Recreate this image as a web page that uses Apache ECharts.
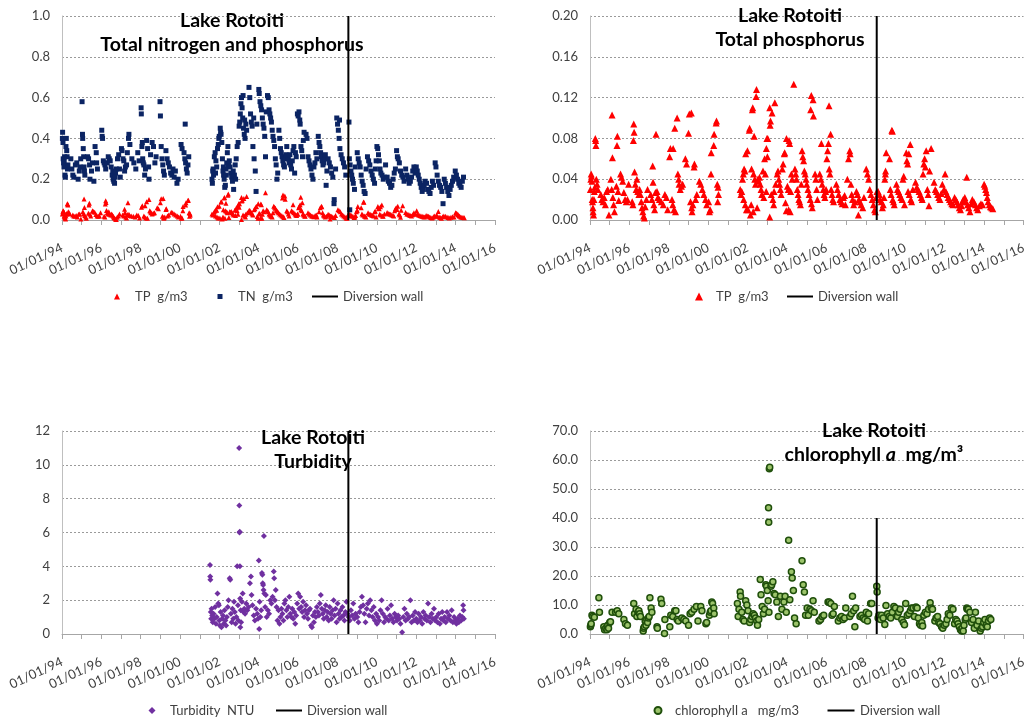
<!DOCTYPE html>
<html>
<head>
<meta charset="utf-8">
<script src="https://cdn.jsdelivr.net/npm/echarts@6/dist/echarts.min.js"></script>
<style>
  html, body { margin: 0; padding: 0; background: #fff; }
  #chart { width: 1029px; height: 720px; }
</style>
</head>
<body>
<div id="chart"></div>
<script>
// dates are decimal years
var tnData = [
  [1994.02,0.40],[1994.03,0.43],[1994.05,0.38],[1994.06,0.30],[1994.08,0.28],[1994.10,0.26],[1994.11,0.29],[1994.13,0.31],[1994.15,0.22],[1994.17,0.21],[1994.20,0.36],[1994.22,0.40],[1994.24,0.34],[1994.26,0.31],[1994.28,0.25],[1994.30,0.27],
  [1994.45,0.30],[1994.50,0.25],[1994.55,0.22],[1994.60,0.21],[1994.68,0.27],[1994.75,0.28],[1994.82,0.20],[1994.88,0.24],[1994.95,0.30],[1994.92,0.26],
  [1995.02,0.58],[1995.04,0.42],[1995.05,0.40],[1995.08,0.35],[1995.10,0.31],[1995.12,0.26],[1995.14,0.24],[1995.16,0.22],
  [1995.30,0.31],[1995.35,0.30],[1995.40,0.27],[1995.42,0.20],[1995.50,0.24],[1995.55,0.28],[1995.62,0.19],[1995.68,0.36],[1995.74,0.33],[1995.80,0.25],[1995.76,0.28],
  [1996.02,0.44],[1996.04,0.41],[1996.06,0.40],[1996.10,0.29],[1996.14,0.28],[1996.18,0.27],[1996.22,0.25],
  [1996.30,0.28],[1996.35,0.31],[1996.40,0.30],[1996.45,0.29],[1996.50,0.26],[1996.55,0.22],[1996.60,0.20],[1996.63,0.19],[1996.67,0.18],[1996.72,0.23],[1996.76,0.25],[1996.82,0.30],[1996.88,0.32],[1996.92,0.25],[1996.96,0.21],[1996.58,0.24],[1996.70,0.21],
  [1997.02,0.35],[1997.05,0.34],[1997.10,0.30],[1997.14,0.29],[1997.18,0.24],[1997.22,0.26],[1997.28,0.27],[1997.32,0.33],[1997.38,0.40],[1997.40,0.42],[1997.45,0.37],
  [1997.55,0.30],[1997.65,0.28],[1997.75,0.25],[1997.85,0.33],[1997.92,0.29],
  [1998.02,0.55],[1998.03,0.52],[1998.06,0.36],[1998.08,0.38],[1998.10,0.30],[1998.13,0.28],[1998.16,0.27],[1998.20,0.22],[1998.24,0.25],
  [1998.30,0.39],[1998.35,0.35],[1998.40,0.26],[1998.42,0.20],[1998.50,0.32],[1998.58,0.38],[1998.65,0.36],[1998.72,0.28],[1998.78,0.31],
  [1998.98,0.58],[1999.00,0.51],[1999.04,0.36],[1999.08,0.30],[1999.12,0.27],[1999.16,0.24],[1999.20,0.22],
  [1999.28,0.34],[1999.34,0.30],[1999.40,0.28],[1999.46,0.26],[1999.52,0.23],[1999.58,0.22],[1999.64,0.25],[1999.70,0.21],[1999.76,0.24],[1999.84,0.18],[1999.90,0.20],
  [2000.05,0.37],[2000.10,0.35],[2000.26,0.47],[2000.20,0.33],[2000.24,0.30],[2000.28,0.28],[2000.32,0.25],[2000.36,0.23],[2000.40,0.27],[2000.44,0.31],
  [2001.62,0.20],[2001.64,0.18],[2001.66,0.24],[2001.70,0.22],[2001.74,0.31],[2001.78,0.33],[2001.82,0.29],[2001.86,0.26],[2001.90,0.35],[2001.94,0.37],[2001.97,0.40],[2001.99,0.41],[2001.68,0.25],[2001.80,0.23],
  [2002.04,0.45],[2002.06,0.43],[2002.08,0.42],[2002.12,0.38],[2002.15,0.30],[2002.18,0.24],[2002.21,0.22],[2002.24,0.20],[2002.27,0.16],[2002.30,0.17],[2002.33,0.25],[2002.37,0.28],[2002.40,0.33],[2002.43,0.36],[2002.46,0.27],[2002.20,0.26],[2002.35,0.22],
  [2002.50,0.29],[2002.54,0.26],[2002.58,0.23],[2002.62,0.21],[2002.66,0.19],[2002.72,0.15],[2002.76,0.22],[2002.80,0.27],[2002.85,0.30],[2002.90,0.36],[2002.95,0.38],[2002.70,0.24],[2002.82,0.20],
  [2003.00,0.46],[2003.03,0.48],[2003.06,0.52],[2003.09,0.57],[2003.12,0.60],[2003.15,0.55],[2003.18,0.50],[2003.22,0.45],[2003.26,0.42],[2003.30,0.40],[2003.34,0.47],[2003.38,0.44],[2003.20,0.61],[2003.28,0.49],
  [2003.50,0.65],[2003.54,0.60],[2003.58,0.52],[2003.62,0.48],[2003.66,0.46],[2003.70,0.36],[2003.76,0.30],[2003.82,0.24],[2003.86,0.14],[2003.74,0.50],[2003.90,0.47],
  [2004.00,0.64],[2004.02,0.62],[2004.06,0.58],[2004.10,0.56],[2004.14,0.54],[2004.18,0.50],[2004.22,0.47],[2004.26,0.45],[2004.30,0.41],[2004.34,0.31],[2004.38,0.53],
  [2004.44,0.61],[2004.48,0.60],[2004.52,0.54],[2004.56,0.52],[2004.60,0.50],[2004.64,0.48],[2004.68,0.44],[2004.72,0.41],[2004.76,0.39],[2004.80,0.36],[2004.84,0.30],[2004.88,0.27],[2004.92,0.20],[2004.96,0.23],
  [2005.02,0.44],[2005.06,0.40],[2005.10,0.35],[2005.14,0.33],[2005.18,0.31],[2005.22,0.29],[2005.26,0.27],[2005.30,0.26],[2005.34,0.30],[2005.38,0.32],[2005.42,0.36],
  [2005.50,0.30],[2005.54,0.28],[2005.58,0.32],[2005.62,0.27],[2005.66,0.25],[2005.70,0.29],[2005.74,0.34],[2005.78,0.36],[2005.82,0.23],[2005.86,0.33],[2005.90,0.31],
  [2005.96,0.52],[2006.00,0.51],[2006.04,0.53],[2006.08,0.49],[2006.10,0.47],[2006.14,0.36],[2006.18,0.34],[2006.22,0.31],[2006.26,0.39],[2006.30,0.43],
  [2006.40,0.42],[2006.45,0.40],[2006.50,0.31],[2006.55,0.29],[2006.60,0.27],[2006.65,0.25],[2006.70,0.22],[2006.75,0.20],[2006.80,0.26],[2006.85,0.28],[2006.90,0.33],[2006.95,0.30],
  [2007.02,0.41],[2007.06,0.38],[2007.10,0.36],[2007.14,0.33],[2007.18,0.31],[2007.22,0.29],[2007.26,0.27],[2007.30,0.28],[2007.34,0.30],[2007.38,0.32],[2007.42,0.17],[2007.46,0.24],
  [2007.52,0.30],[2007.58,0.28],[2007.64,0.26],[2007.70,0.23],[2007.76,0.21],[2007.82,0.08],[2007.83,0.10],[2007.90,0.25],
  [2007.96,0.50],[2008.00,0.47],[2008.04,0.44],[2008.08,0.40],[2008.12,0.35],[2008.18,0.32],[2008.24,0.30],[2008.30,0.28],[2008.36,0.26],[2008.42,0.22],[2008.10,0.49],
  [2008.58,0.48],[2008.60,0.30],[2008.64,0.27],[2008.68,0.24],[2008.72,0.22],[2008.76,0.20],[2008.80,0.18],[2008.86,0.15],[2008.62,0.05],[2008.90,0.26],
  [2009.00,0.33],[2009.05,0.30],[2009.10,0.28],[2009.15,0.26],[2009.20,0.22],[2009.25,0.19],[2009.30,0.17],[2009.35,0.14],[2009.40,0.13],[2009.45,0.25],
  [2009.52,0.31],[2009.58,0.29],[2009.64,0.27],[2009.70,0.24],[2009.76,0.22],[2009.82,0.20],[2009.88,0.18],[2009.92,0.25],[2009.96,0.29],
  [2010.00,0.36],[2010.04,0.35],[2010.08,0.32],[2010.12,0.29],[2010.16,0.25],[2010.20,0.23],[2010.26,0.22],[2010.32,0.20],[2010.38,0.21],[2010.44,0.27],
  [2010.52,0.21],[2010.58,0.19],[2010.64,0.18],[2010.70,0.16],[2010.76,0.17],[2010.82,0.20],[2010.88,0.23],[2010.94,0.25],
  [2011.00,0.34],[2011.04,0.31],[2011.08,0.30],[2011.14,0.28],[2011.20,0.24],[2011.26,0.22],[2011.32,0.21],[2011.38,0.19],
  [2011.46,0.25],[2011.52,0.22],[2011.58,0.20],[2011.64,0.18],[2011.70,0.19],[2011.76,0.21],[2011.82,0.24],[2011.88,0.26],[2011.94,0.23],
  [2012.00,0.26],[2012.05,0.24],[2012.10,0.22],[2012.15,0.20],[2012.20,0.18],[2012.25,0.16],[2012.30,0.14],[2012.35,0.15],[2012.40,0.17],[2012.45,0.19],
  [2012.52,0.18],[2012.58,0.15],[2012.64,0.14],[2012.70,0.13],[2012.76,0.16],[2012.82,0.19],[2012.88,0.17],
  [2012.96,0.28],[2013.00,0.26],[2013.06,0.22],[2013.12,0.19],[2013.18,0.17],[2013.24,0.16],[2013.30,0.14],[2013.36,0.08],
  [2013.42,0.20],[2013.48,0.18],[2013.54,0.16],[2013.60,0.14],[2013.66,0.12],[2013.72,0.15],[2013.78,0.17],[2013.84,0.19],[2013.90,0.21],
  [2013.98,0.24],[2014.04,0.22],[2014.10,0.20],[2014.16,0.18],[2014.22,0.17],[2014.28,0.16],[2014.34,0.19],[2014.40,0.21]
];

var tpData = [
  [1994.02,0.030],[1994.04,0.040],[1994.06,0.045],[1994.08,0.043],[1994.10,0.038],[1994.11,0.020],[1994.13,0.018],[1994.15,0.012],[1994.16,0.008],[1994.18,0.005],[1994.20,0.020],[1994.22,0.028],[1994.24,0.032],[1994.27,0.080],[1994.29,0.078],[1994.30,0.073],[1994.32,0.040],[1994.36,0.035],[1994.40,0.030],
  [1994.55,0.025],[1994.60,0.020],[1994.66,0.018],[1994.72,0.022],[1994.78,0.015],[1994.84,0.028],[1994.90,0.030],[1994.96,0.005],
  [1995.12,0.103],[1995.14,0.061],[1995.06,0.040],[1995.10,0.030],[1995.16,0.022],[1995.20,0.015],[1995.24,0.008],[1995.39,0.082],[1995.37,0.073],[1995.34,0.033],[1995.42,0.028],[1995.46,0.019],
  [1995.55,0.045],[1995.60,0.042],[1995.66,0.038],[1995.72,0.027],[1995.78,0.020],[1995.84,0.018],[1995.90,0.020],[1995.96,0.035],
  [1996.22,0.094],[1996.24,0.086],[1996.20,0.078],[1996.26,0.047],[1996.14,0.018],[1996.18,0.015],[1996.30,0.035],[1996.34,0.030],[1996.38,0.040],[1996.42,0.028],[1996.48,0.025],
  [1996.52,0.030],[1996.56,0.025],[1996.60,0.018],[1996.64,0.012],[1996.68,0.008],[1996.72,0.004],[1996.76,0.002],[1996.80,0.013],[1996.86,0.020],[1996.92,0.030],[1997.18,0.053],[1997.20,0.037],
  [1997.35,0.084],[1997.08,0.025],[1997.14,0.020],[1997.24,0.015],[1997.28,0.010],[1997.32,0.027],[1997.40,0.028],[1997.44,0.022],
  [1997.52,0.020],[1997.62,0.018],[1997.72,0.015],[1997.80,0.025],[1997.88,0.022],[1997.94,0.010],
  [1998.08,0.070],[1998.04,0.062],[1998.30,0.090],[1998.42,0.100],[1998.22,0.070],[1998.16,0.020],[1998.20,0.015],[1998.26,0.010],[1998.34,0.008],[1998.46,0.045],[1998.50,0.040],[1998.52,0.035],
  [1998.58,0.030],[1998.64,0.033],[1998.70,0.035],[1998.84,0.060],[1998.90,0.055],
  [1999.04,0.104],[1999.14,0.105],[1999.00,0.085],[1999.10,0.018],[1999.16,0.012],[1999.18,0.008],[1999.22,0.015],[1999.28,0.052],[1999.30,0.055],[1999.36,0.020],[1999.42,0.025],
  [1999.55,0.038],[1999.62,0.035],[1999.70,0.030],[1999.78,0.025],[1999.86,0.020],[1999.92,0.015],
  [2000.02,0.018],[2000.06,0.008],[2000.10,0.010],[2000.14,0.045],[2000.15,0.066],[2000.28,0.073],[2000.30,0.084],[2000.40,0.095],[2000.42,0.097],[2000.46,0.035],[2000.50,0.032],[2000.52,0.025],[2000.48,0.018],
  [2001.62,0.030],[2001.66,0.025],[2001.70,0.028],[2001.74,0.040],[2001.78,0.045],[2001.82,0.050],[2001.86,0.048],[2001.90,0.065],[2001.99,0.068],[2002.08,0.088],[2002.10,0.090],[2001.80,0.020],[2001.88,0.015],[2001.94,0.010],
  [2002.24,0.108],[2002.26,0.110],[2002.33,0.082],[2002.45,0.128],[2002.43,0.121],[2002.20,0.050],[2002.30,0.045],[2002.36,0.040],[2002.40,0.035],[2002.02,0.010],[2002.14,0.005],[2002.18,0.015],[2002.28,0.008],[2002.48,0.012],
  [2002.52,0.040],[2002.56,0.038],[2002.60,0.042],[2002.64,0.035],[2002.68,0.030],[2002.72,0.025],[2002.78,0.048],[2002.95,0.070],[2002.98,0.080],[2002.86,0.060],[2002.90,0.045],[2002.94,0.028],[2002.82,0.022],
  [2003.12,0.110],[2003.38,0.115],[2003.16,0.097],[2003.14,0.093],[2003.24,0.105],[2003.02,0.080],[2003.00,0.062],[2003.12,0.003],[2003.20,0.025],[2003.28,0.020],[2003.32,0.015],[2003.34,0.028],[2003.42,0.035],
  [2003.50,0.045],[2003.54,0.048],[2003.58,0.040],[2003.62,0.035],[2003.66,0.030],[2003.70,0.025],[2003.76,0.050],[2003.80,0.055],[2003.86,0.065],[2003.92,0.017],[2003.96,0.009],
  [2003.97,0.080],[2004.10,0.078],[2004.13,0.075],[2003.88,0.066],[2004.02,0.033],[2004.06,0.030],[2004.18,0.028],[2004.08,0.010],[2004.16,0.008],[2004.22,0.045],[2004.26,0.040],
  [2004.34,0.133],[2004.40,0.050],[2004.44,0.045],[2004.48,0.040],[2004.52,0.030],[2004.56,0.025],[2004.60,0.020],[2004.64,0.018],[2004.68,0.015],[2004.72,0.035],
  [2004.76,0.068],[2004.80,0.062],[2004.84,0.058],[2004.88,0.048],[2004.92,0.045],[2004.96,0.040],[2005.00,0.035],[2005.06,0.030],[2005.12,0.025],[2005.18,0.020],[2005.24,0.016],[2005.28,0.012],
  [2005.23,0.122],[2005.32,0.118],[2005.20,0.108],[2005.34,0.102],[2005.42,0.045],[2005.46,0.040],[2005.50,0.030],[2005.54,0.020],
  [2005.74,0.075],[2005.66,0.045],[2005.72,0.040],[2005.78,0.035],[2005.84,0.030],[2005.88,0.025],[2005.92,0.022],[2005.96,0.028],[2005.98,0.030],
  [2006.13,0.112],[2006.21,0.084],[2006.10,0.075],[2006.06,0.068],[2006.02,0.060],[2006.14,0.050],[2006.18,0.045],[2006.24,0.030],[2006.28,0.025],[2006.32,0.020],[2006.36,0.018],
  [2006.50,0.035],[2006.56,0.030],[2006.62,0.025],[2006.68,0.020],[2006.74,0.018],[2006.80,0.016],[2006.86,0.022],[2006.92,0.024],[2006.96,0.015],
  [2007.18,0.068],[2007.20,0.065],[2007.12,0.060],[2007.06,0.040],[2007.24,0.035],[2007.28,0.025],[2007.32,0.020],[2007.38,0.015],[2007.44,0.018],
  [2007.52,0.028],[2007.58,0.025],[2007.64,0.020],[2007.70,0.018],[2007.76,0.015],[2007.62,0.005],[2007.84,0.012],[2007.90,0.022],
  [2008.02,0.050],[2008.08,0.045],[2008.14,0.040],[2008.20,0.030],[2008.26,0.025],[2008.32,0.020],[2008.38,0.015],[2008.44,0.010],[2008.48,0.008],[2008.52,0.022],[2008.56,0.028],
  [2008.62,0.028],[2008.68,0.025],[2008.72,0.020],[2008.78,0.018],[2008.84,0.012],[2008.88,0.015],[2008.92,0.022],[2008.96,0.040],[2008.99,0.045],
  [2009.03,0.066],[2009.20,0.060],[2009.00,0.048],[2009.32,0.088],[2009.34,0.087],[2009.24,0.030],[2009.28,0.025],[2009.36,0.020],[2009.40,0.018],[2009.44,0.015],
  [2009.55,0.035],[2009.60,0.030],[2009.66,0.028],[2009.72,0.025],[2009.78,0.022],[2009.84,0.020],[2009.88,0.040],[2009.92,0.043],[2009.96,0.015],
  [2010.05,0.066],[2010.25,0.074],[2010.18,0.065],[2010.08,0.058],[2010.12,0.055],[2010.14,0.028],[2010.20,0.025],[2010.28,0.020],[2010.32,0.018],[2010.38,0.030],
  [2010.52,0.037],[2010.58,0.032],[2010.64,0.030],[2010.70,0.028],[2010.76,0.025],[2010.82,0.022],[2010.86,0.020],
  [2011.06,0.068],[2011.31,0.070],[2010.98,0.060],[2010.94,0.055],[2011.02,0.052],[2011.23,0.048],[2010.90,0.045],[2011.12,0.030],[2011.16,0.025],[2011.20,0.014],
  [2011.46,0.037],[2011.52,0.030],[2011.58,0.028],[2011.64,0.025],[2011.70,0.022],[2011.76,0.020],[2011.82,0.026],[2011.88,0.035],
  [2012.02,0.045],[2011.96,0.030],[2012.06,0.028],[2012.12,0.025],[2012.18,0.022],[2012.24,0.020],[2012.30,0.018],[2012.36,0.016],[2012.42,0.015],
  [2012.50,0.022],[2012.56,0.020],[2012.62,0.018],[2012.68,0.015],[2012.74,0.012],[2012.80,0.010],[2012.86,0.014],[2012.90,0.018],[2012.94,0.020],
  [2013.12,0.042],[2013.02,0.022],[2013.08,0.018],[2013.16,0.015],[2013.22,0.012],[2013.28,0.008],[2013.34,0.016],[2013.40,0.020],
  [2013.48,0.018],[2013.56,0.015],[2013.62,0.012],[2013.68,0.010],[2013.76,0.014],[2013.84,0.016],[2013.92,0.015],
  [2014.00,0.035],[2014.04,0.033],[2014.08,0.030],[2014.12,0.027],[2014.16,0.022],[2014.20,0.018],[2014.26,0.015],[2014.32,0.013],[2014.38,0.012],[2014.44,0.011]
];

var turbidityData = [
  [2001.52,4.08],[2001.53,3.4],[2001.54,3.2],[2001.56,1.3],[2001.58,0.9],[2001.60,1.5],[2001.63,1.1],[2001.66,0.7],[2001.70,1.2],[2001.74,0.9],[2001.78,1.6],[2001.82,0.6],[2001.86,1.0],[2001.90,2.4],[2001.94,1.8],[2001.97,1.7],[2001.99,0.8],
  [2002.02,0.5],[2002.06,1.3],[2002.10,0.4],[2002.14,0.9],[2002.18,1.1],[2002.22,0.6],[2002.26,1.4],[2002.30,0.8],[2002.34,0.5],[2002.38,1.0],[2002.42,1.6],[2002.46,2.0],[2002.52,3.3],[2002.55,3.2],[2002.58,1.2],[2002.62,0.7],[2002.66,1.5],[2002.70,0.9],[2002.74,1.9],[2002.78,1.3],[2002.82,0.6],[2002.86,1.0],[2002.90,4.0],[2002.94,1.7],[2002.96,0.8],
  [2003.00,11.0],[2003.01,7.6],[2003.02,6.0],[2003.03,6.05],[2003.04,4.0],[2003.05,2.1],[2003.06,0.4],[2003.08,1.4],[2003.10,0.7],[2003.14,1.9],[2003.18,2.4],[2003.22,1.3],[2003.26,1.5],[2003.30,1.2],[2003.36,1.8],[2003.42,1.4],[2003.48,1.6],[2003.55,3.0],[2003.60,3.4],[2003.63,2.3],[2003.68,1.7],[2003.74,1.1],[2003.80,0.8],[2003.86,1.5],[2003.92,1.2],[2003.96,0.9],
  [2004.00,4.35],[2004.02,0.3],[2004.04,1.9],[2004.08,1.0],[2004.12,1.4],[2004.16,3.6],[2004.18,3.5],[2004.20,3.0],[2004.22,2.9],[2004.24,2.6],[2004.26,5.8],[2004.28,2.4],[2004.32,1.6],[2004.36,2.3],[2004.40,1.0],[2004.46,1.4],[2004.52,1.2],[2004.58,2.0],[2004.64,1.8],[2004.70,2.2],[2004.76,3.7],[2004.78,3.3],[2004.82,2.0],[2004.86,2.6],[2004.90,1.6],[2004.95,0.8],
  [2005.00,1.4],[2005.05,0.6],[2005.10,1.0],[2005.15,1.5],[2005.20,1.2],[2005.25,0.8],[2005.30,1.8],[2005.35,2.0],[2005.40,1.4],[2005.45,1.0],[2005.50,1.6],[2005.55,2.2],[2005.60,1.2],[2005.65,1.0],[2005.70,1.5],[2005.75,0.9],[2005.80,1.3],[2005.85,0.6],[2005.90,1.1],[2005.95,1.8],
  [2006.00,2.4],[2006.05,1.5],[2006.10,2.2],[2006.15,1.6],[2006.20,1.3],[2006.25,1.9],[2006.30,1.0],[2006.35,1.4],[2006.40,1.7],[2006.45,1.2],[2006.50,0.9],[2006.55,1.4],[2006.60,1.5],[2006.65,0.5],[2006.70,0.4],[2006.75,1.1],[2006.80,0.7],[2006.85,1.3],[2006.90,1.0],[2006.95,1.6],
  [2007.00,1.3],[2007.05,1.1],[2007.10,1.8],[2007.15,2.3],[2007.20,1.5],[2007.25,1.2],[2007.30,0.9],[2007.35,1.4],[2007.40,1.7],[2007.45,1.0],[2007.50,1.3],[2007.55,0.8],[2007.60,1.6],[2007.65,1.2],[2007.70,0.9],[2007.75,1.4],[2007.80,2.0],[2007.85,1.1],[2007.90,1.5],[2007.95,0.7],
  [2008.00,1.8],[2008.05,1.2],[2008.10,0.9],[2008.15,1.4],[2008.20,1.0],[2008.25,1.6],[2008.30,1.1],[2008.35,0.8],[2008.40,1.3],[2008.45,1.9],[2008.50,1.2],[2008.56,1.0],[2008.62,0.8],[2008.68,1.4],[2008.74,1.1],[2008.80,1.8],[2008.86,0.9],[2008.92,1.2],
  [2009.00,1.0],[2009.06,0.7],[2009.12,1.3],[2009.18,1.6],[2009.24,2.2],[2009.30,1.7],[2009.36,1.2],[2009.42,0.7],[2009.48,1.5],[2009.54,1.8],[2009.60,1.1],[2009.66,2.0],[2009.72,1.4],[2009.78,1.0],[2009.84,1.6],[2009.90,0.8],[2009.96,1.2],
  [2010.00,0.6],[2010.06,1.0],[2010.12,0.8],[2010.18,1.4],[2010.24,2.0],[2010.30,1.2],[2010.36,0.7],[2010.42,1.0],[2010.48,0.9],[2010.54,1.5],[2010.60,0.8],[2010.66,1.1],[2010.72,1.7],[2010.78,0.9],[2010.84,0.7],[2010.90,1.2],[2010.96,1.0],
  [2011.02,0.8],[2011.08,1.1],[2011.14,0.9],[2011.20,0.6],[2011.28,0.1],[2011.34,1.0],[2011.40,1.5],[2011.46,0.8],[2011.52,1.2],[2011.58,0.9],[2011.64,1.0],[2011.70,2.0],[2011.76,0.7],[2011.82,1.1],[2011.88,0.8],[2011.94,1.3],
  [2012.00,0.9],[2012.06,0.7],[2012.12,1.2],[2012.18,0.8],[2012.24,1.0],[2012.30,0.6],[2012.36,1.3],[2012.42,0.9],[2012.48,1.1],[2012.54,0.8],[2012.60,1.8],[2012.66,1.0],[2012.72,0.7],[2012.78,1.2],[2012.84,0.9],[2012.90,1.5],[2012.96,0.8],
  [2013.02,1.0],[2013.08,0.7],[2013.14,1.2],[2013.20,0.6],[2013.26,0.9],[2013.32,1.3],[2013.38,0.8],[2013.44,1.0],[2013.50,0.7],[2013.56,1.3],[2013.62,0.9],[2013.68,1.1],[2013.74,0.8],[2013.80,1.4],[2013.86,0.7],[2013.92,1.0],[2013.98,0.8],
  [2014.04,0.6],[2014.10,0.9],[2014.16,0.7],[2014.22,1.1],[2014.28,0.8],[2014.34,1.0],[2014.38,1.7],[2014.40,1.4],[2014.42,0.9]
];

var chlaData = [
  [1994.02,2.5],[1994.04,3.0],[1994.06,3.5],[1994.10,6.5],[1994.14,6.0],[1994.22,5.8],[1994.45,12.5],[1994.48,7.5],[1994.70,2.5],[1994.74,1.5],[1994.80,2.0],[1994.86,1.5],[1994.90,3.0],[1994.94,2.0],[1995.00,4.0],[1995.04,4.2],
  [1995.12,7.5],[1995.30,7.5],[1995.38,8.0],[1995.46,7.0],[1995.72,5.0],[1995.80,3.5],[1995.90,3.0],
  [1996.22,10.5],[1996.26,7.0],[1996.34,8.5],[1996.38,6.0],[1996.44,7.5],[1996.48,8.0],[1996.52,7.0],[1996.56,6.0],
  [1996.70,1.0],[1996.72,2.0],[1996.76,2.5],[1996.80,4.5],[1996.84,3.0],[1996.88,5.0],[1996.92,4.0],[1996.96,5.5],[1997.00,6.0],[1997.04,12.5],[1997.10,9.0],[1997.14,7.5],
  [1997.40,2.5],[1997.42,2.0],[1997.60,12.0],[1997.64,10.5],[1997.78,0.2],[1997.80,5.0],
  [1998.05,2.5],[1998.10,6.5],[1998.20,6.0],[1998.30,8.0],[1998.36,8.0],[1998.42,5.0],[1998.48,4.5],
  [1998.66,5.5],[1998.76,5.0],[1998.86,4.5],[1999.00,3.0],[1999.08,7.0],[1999.16,7.5],
  [1999.28,8.5],[1999.40,9.5],[1999.48,4.5],[1999.62,9.5],[1999.68,8.0],
  [1999.88,3.5],[1999.92,4.0],[2000.06,6.5],[2000.10,7.5],[2000.14,8.0],[2000.18,11.0],[2000.22,10.5],[2000.28,9.0],[2000.30,7.0],
  [2001.48,10.5],[2001.52,6.0],[2001.56,8.5],[2001.62,14.5],[2001.64,13.0],[2001.70,7.5],[2001.76,5.0],[2001.82,4.5],[2001.90,11.5],[2001.96,10.0],[2002.02,8.0],
  [2002.10,4.0],[2002.16,5.0],[2002.22,6.0],[2002.28,7.0],[2002.34,6.5],[2002.40,5.5],[2002.46,4.5],[2002.50,3.0],[2002.56,5.0],
  [2002.64,18.8],[2002.68,13.5],[2002.74,9.5],[2002.80,7.0],[2002.86,8.5],
  [2002.92,17.0],[2002.96,16.5],[2003.00,15.0],[2003.04,11.5],[2003.08,7.5],[2003.06,43.5],[2003.07,38.5],[2003.10,57.0],[2003.12,57.5],
  [2003.18,16.5],[2003.22,17.0],[2003.28,18.0],[2003.34,14.0],[2003.40,13.5],
  [2003.48,11.0],[2003.56,6.0],[2003.66,13.0],[2003.74,8.5],[2003.84,11.0],[2003.90,13.0],[2003.96,7.5],
  [2004.08,32.3],[2004.14,11.8],[2004.22,21.5],[2004.26,19.3],[2004.32,15.0],[2004.38,5.5],[2004.46,3.5],
  [2004.76,25.3],[2004.82,17.0],[2004.88,14.5],[2004.94,6.5],
  [2005.02,9.0],[2005.08,6.5],[2005.16,8.5],[2005.24,8.0],[2005.32,11.5],[2005.38,7.5],
  [2005.62,4.5],[2005.70,5.0],[2005.78,6.0],[2005.86,6.5],
  [2006.08,11.0],[2006.14,11.0],[2006.22,10.5],[2006.28,6.5],[2006.34,7.0],[2006.40,9.5],
  [2006.60,4.5],[2006.68,5.5],[2006.76,6.0],[2006.84,5.0],[2006.92,5.5],[2006.98,9.0],
  [2007.18,6.0],[2007.26,7.0],[2007.32,13.0],[2007.38,8.0],[2007.44,2.5],[2007.48,9.0],
  [2007.70,6.0],[2007.78,6.5],[2007.86,5.5],[2007.94,5.0],[2008.02,7.5],[2008.08,4.5],[2008.14,7.0],[2008.24,10.5],[2008.30,10.5],
  [2008.55,16.5],[2008.57,14.5],[2008.62,5.5],[2008.66,6.5],
  [2008.74,5.0],[2008.80,6.5],[2008.88,5.5],[2008.96,3.3],[2009.02,9.8],
  [2009.10,7.0],[2009.18,6.0],[2009.26,5.5],[2009.34,7.5],[2009.42,9.5],[2009.50,9.0],
  [2009.60,6.0],[2009.66,7.5],[2009.74,8.5],[2009.82,5.0],[2009.90,4.0],[2009.96,3.2],[2010.02,10.5],
  [2010.10,6.5],[2010.18,7.0],[2010.26,8.0],[2010.32,9.0],[2010.40,9.0],[2010.46,6.0],
  [2010.54,9.3],[2010.60,9.0],[2010.66,5.5],[2010.72,3.5],[2010.78,3.0],[2010.84,4.0],[2010.88,2.8],
  [2010.94,6.5],[2011.02,7.5],[2011.10,7.0],[2011.18,8.5],[2011.26,10.8],[2011.32,9.0],[2011.38,8.5],
  [2011.50,4.5],[2011.56,5.5],[2011.64,6.0],[2011.70,4.0],[2011.76,3.5],
  [2011.84,2.5],[2011.90,2.0],[2011.98,3.0],[2012.06,3.5],[2012.12,5.0],
  [2012.18,7.0],[2012.26,6.5],[2012.34,9.0],[2012.42,8.5],[2012.50,3.5],[2012.56,5.0],
  [2012.62,4.5],[2012.68,3.5],[2012.74,2.5],[2012.80,1.5],[2012.86,1.0],[2012.88,2.0],
  [2012.94,1.0],[2012.98,3.0],[2013.04,5.0],[2013.08,5.5],[2013.12,9.0],[2013.14,8.5],
  [2013.20,8.5],[2013.28,7.5],[2013.36,4.0],[2013.44,5.0],[2013.50,2.0],[2013.56,7.5],
  [2013.64,3.0],[2013.72,4.5],[2013.80,1.0],[2013.86,2.0],[2013.92,2.5],[2013.98,4.0],
  [2014.04,5.0],[2014.10,3.0],[2014.16,2.5],[2014.22,4.5],[2014.28,5.5],[2014.34,5.0]
];

var wallYear = 2008.55;
var wallTops = [1.0, 0.2, 12, 40];
var yearRange = [1994, 2016];

var FONT = 'Lato';
var grey = '#a6a6a6';

function xAxisFor(gi) {
  return {
    type: 'value', gridIndex: gi, min: yearRange[0], max: yearRange[1], interval: 1,
    axisLine: { show: true, lineStyle: { color: grey } },
    axisTick: { show: true, length: 5, lineStyle: { color: grey } },
    splitLine: { show: false },
    axisLabel: {
      rotate: 25, margin: 27, fontSize: 13, color: '#404040', fontFamily: FONT,
      formatter: function (v) { return v % 2 === 0 ? '01/01/' + String(v).slice(2) : ''; }
    }
  };
}

function yAxisFor(gi, max, step, dec) {
  return {
    type: 'value', gridIndex: gi, min: 0, max: max, interval: step,
    axisLine: { show: true, lineStyle: { color: '#bfbfbf' } },
    axisTick: { show: false },
    splitLine: { show: true, lineStyle: { color: '#9a9a9a', type: [2, 2], width: 1 } },
    axisLabel: {
      margin: 12, fontSize: 13, color: '#404040', fontFamily: FONT,
      formatter: function (v) { return v.toFixed(dec); }
    }
  };
}

function wallSeries(gi) {
  return {
    name: 'Diversion wall', type: 'line', xAxisIndex: gi, yAxisIndex: gi,
    data: [[wallYear, 0], [wallYear, wallTops[gi]]],
    symbol: 'none', lineStyle: { color: '#000', width: 2 }, itemStyle: { color: '#000' }, z: 5
  };
}

var titleStyle = { fontFamily: FONT, fontWeight: 'bold', fontSize: 19.5, lineHeight: 24, color: '#000' };

// legend entry: icon centred at cx, text starting at tx
function legendAt(name, icon, cx, tx, top, w, h) {
  var left = cx - w / 2;
  var pad = tx - (left + w + 5);
  return {
    data: [{ name: name, icon: icon }], left: left, top: top, itemWidth: w, itemHeight: h,
    padding: 0, selectedMode: false,
    textStyle: { fontFamily: FONT, fontSize: 13, color: '#404040', padding: [0, 0, 0, pad] }
  };
}

var chart = echarts.init(document.getElementById('chart'));
chart.setOption({
  animation: false,
  backgroundColor: '#fff',
  title: [
    { text: 'Lake Rotoiti\nTotal nitrogen and phosphorus', left: 232, top: 9, textAlign: 'center', padding: 0, textStyle: titleStyle },
    { text: 'Lake Rotoiti\nTotal phosphorus', left: 790, top: 4, textAlign: 'center', padding: 0, textStyle: titleStyle },
    { text: 'Lake Rotoiti\nTurbidity', left: 313, top: 426, textAlign: 'center', padding: 0, textStyle: titleStyle },
    {
      text: '{b|Lake Rotoiti}\n{b|chlorophyll }{i|a}{b|  mg/m³}', left: 874, top: 419, textAlign: 'center', padding: 0,
      textStyle: {
        rich: {
          b: titleStyle,
          i: { fontFamily: FONT, fontWeight: 'bold', fontStyle: 'italic', fontSize: 19.5, lineHeight: 24, color: '#000' }
        }
      }
    }
  ],
  legend: [
    legendAt('TP  g/m3', 'triangle', 117, 135, 290, 6, 6),
    legendAt('TN  g/m3', 'rect', 220, 238, 290, 5, 5),
    legendAt('Diversion wall', 'rect', 325, 343, 290, 26, 2),
    legendAt('TP  g/m3', 'triangle', 699, 716, 290, 8, 8),
    legendAt('Diversion wall', 'rect', 800, 818, 290, 26, 2),
    legendAt('Turbidity  NTU', 'diamond', 152, 170, 704, 7, 7),
    legendAt('Diversion wall', 'rect', 289, 307, 704, 26, 2),
    legendAt('chlorophyll a   mg/m3', 'circle', 657, 674, 704, 7, 7),
    legendAt('Diversion wall', 'rect', 841, 860, 704, 27, 2)
  ],
  grid: [
    { left: 62, top: 16, width: 433, height: 204 },
    { left: 590, top: 16, width: 434, height: 204 },
    { left: 62, top: 431, width: 433, height: 203 },
    { left: 590, top: 431, width: 434, height: 203 }
  ],
  xAxis: [xAxisFor(0), xAxisFor(1), xAxisFor(2), xAxisFor(3)],
  yAxis: [
    yAxisFor(0, 1.0, 0.2, 1),
    yAxisFor(1, 0.2, 0.04, 2),
    yAxisFor(2, 12, 2, 0),
    yAxisFor(3, 70, 10, 1)
  ],
  series: [
    {
      name: 'TP  g/m3', type: 'scatter', xAxisIndex: 0, yAxisIndex: 0, data: tpData,
      symbol: 'triangle', symbolSize: 5, itemStyle: { color: '#ff0000', opacity: 1 }
    },
    {
      name: 'TN  g/m3', type: 'scatter', xAxisIndex: 0, yAxisIndex: 0, data: tnData,
      symbol: 'rect', symbolSize: 5, itemStyle: { color: '#0b2463', opacity: 1 }
    },
    wallSeries(0),
    {
      name: 'TP  g/m3', type: 'scatter', xAxisIndex: 1, yAxisIndex: 1, data: tpData,
      symbol: 'triangle', symbolSize: 7, itemStyle: { color: '#ff0000', opacity: 1 }
    },
    wallSeries(1),
    {
      name: 'Turbidity  NTU', type: 'scatter', xAxisIndex: 2, yAxisIndex: 2, data: turbidityData,
      symbol: 'diamond', symbolSize: 6, itemStyle: { color: '#7030a0', opacity: 1 }
    },
    wallSeries(2),
    {
      name: 'chlorophyll a   mg/m3', type: 'scatter', xAxisIndex: 3, yAxisIndex: 3, data: chlaData,
      symbol: 'circle', symbolSize: 6, itemStyle: { color: '#9cc46b', borderColor: '#1f4f0b', borderWidth: 1.5, opacity: 1 }
    },
    wallSeries(3)
  ]
});
</script>
</body>
</html>
